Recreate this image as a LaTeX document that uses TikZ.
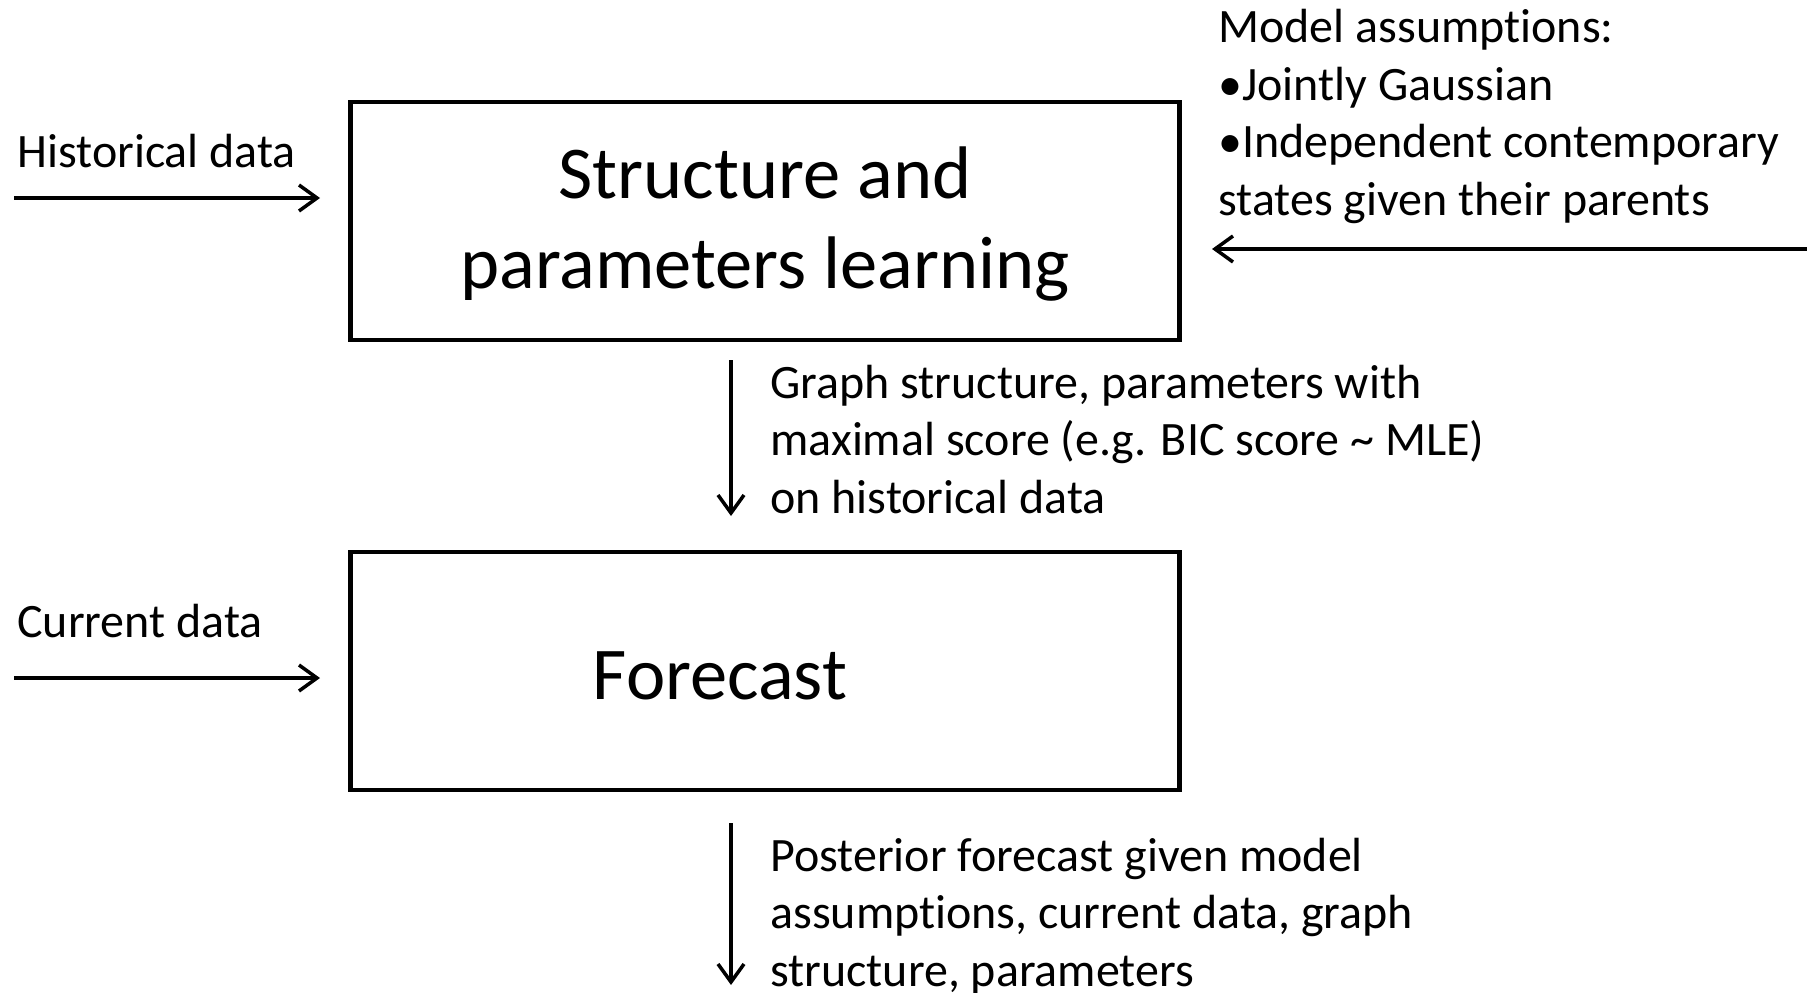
\documentclass[tikz,border=0pt]{standalone}
\usepackage{fontspec}
\setmainfont{Carlito}[Ligatures={NoCommon}]
\usepackage{tikz}
\usetikzlibrary{positioning,calc,arrows.meta}

\tikzset{
    block/.style={draw, line width=2.8pt, rectangle, minimum width=16.6cm, minimum height=4.76cm},
    bigtxt/.style={font=\fontsize{42.4}{51}\selectfont, align=center, inner sep=0pt},
    smalltxt/.style={font=\fontsize{27.3}{32.7}\selectfont, align=left, inner sep=0pt},
    arr/.style={line width=2pt, -{Straight Barb[length=0.36cm,width=0.52cm,line width=2pt]}}
}

\begin{document}
\begin{tikzpicture}[x=0.02cm, y=-0.02cm]
    \useasboundingbox (0,0) rectangle (1807,993);
    % boxes
    \node[block] (learn) at (765,221) {};
    \node[block] (fcast) at (765,671) {};
    \node[bigtxt, anchor=base] (learnlbl) at (765,288) {Structure and\\parameters learning};
    \node[bigtxt, anchor=base] (fcastlbl) at (720,699) {Forecast};

    % inputs
    \node[smalltxt, anchor=base west] (hist) at (17,168) {Historical data};
    \coordinate (histA) at (14,198);
    \coordinate (histB) at (320,198);
    \draw[arr] (histA) -- (histB);

    \node[smalltxt, anchor=base west] (curr) at (17,637) {Current data};
    \coordinate (currA) at (14,678);
    \coordinate (currB) at (320,678);
    \draw[arr] (currA) -- (currB);

    \node[smalltxt, anchor=base west] (assum) at (1218,215)
        {Model assumptions:\\\textbullet Jointly Gaussian\\\textbullet Independent contemporary\\states given their parents};
    \coordinate (assumA) at (1807,249);
    \coordinate (assumB) at (1212,249);
    \draw[arr] (assumA) -- (assumB);

    % outputs
    \coordinate (outA) at (731,360);
    \coordinate (outB) at (731,516);
    \draw[arr] (outA) -- (outB);
    \node[smalltxt, anchor=base west] (graphlbl) at (770,513)
        {Graph structure, parameters with\\maximal score (e.g. BIC score \textasciitilde{} MLE)\\on historical data};

    \coordinate (postA) at (731,823);
    \coordinate (postB) at (731,985);
    \draw[arr] (postA) -- (postB);
    \node[smalltxt, anchor=base west] (postlbl) at (770,986)
        {Posterior forecast given model\\assumptions, current data, graph\\structure, parameters};
\end{tikzpicture}
\end{document}
